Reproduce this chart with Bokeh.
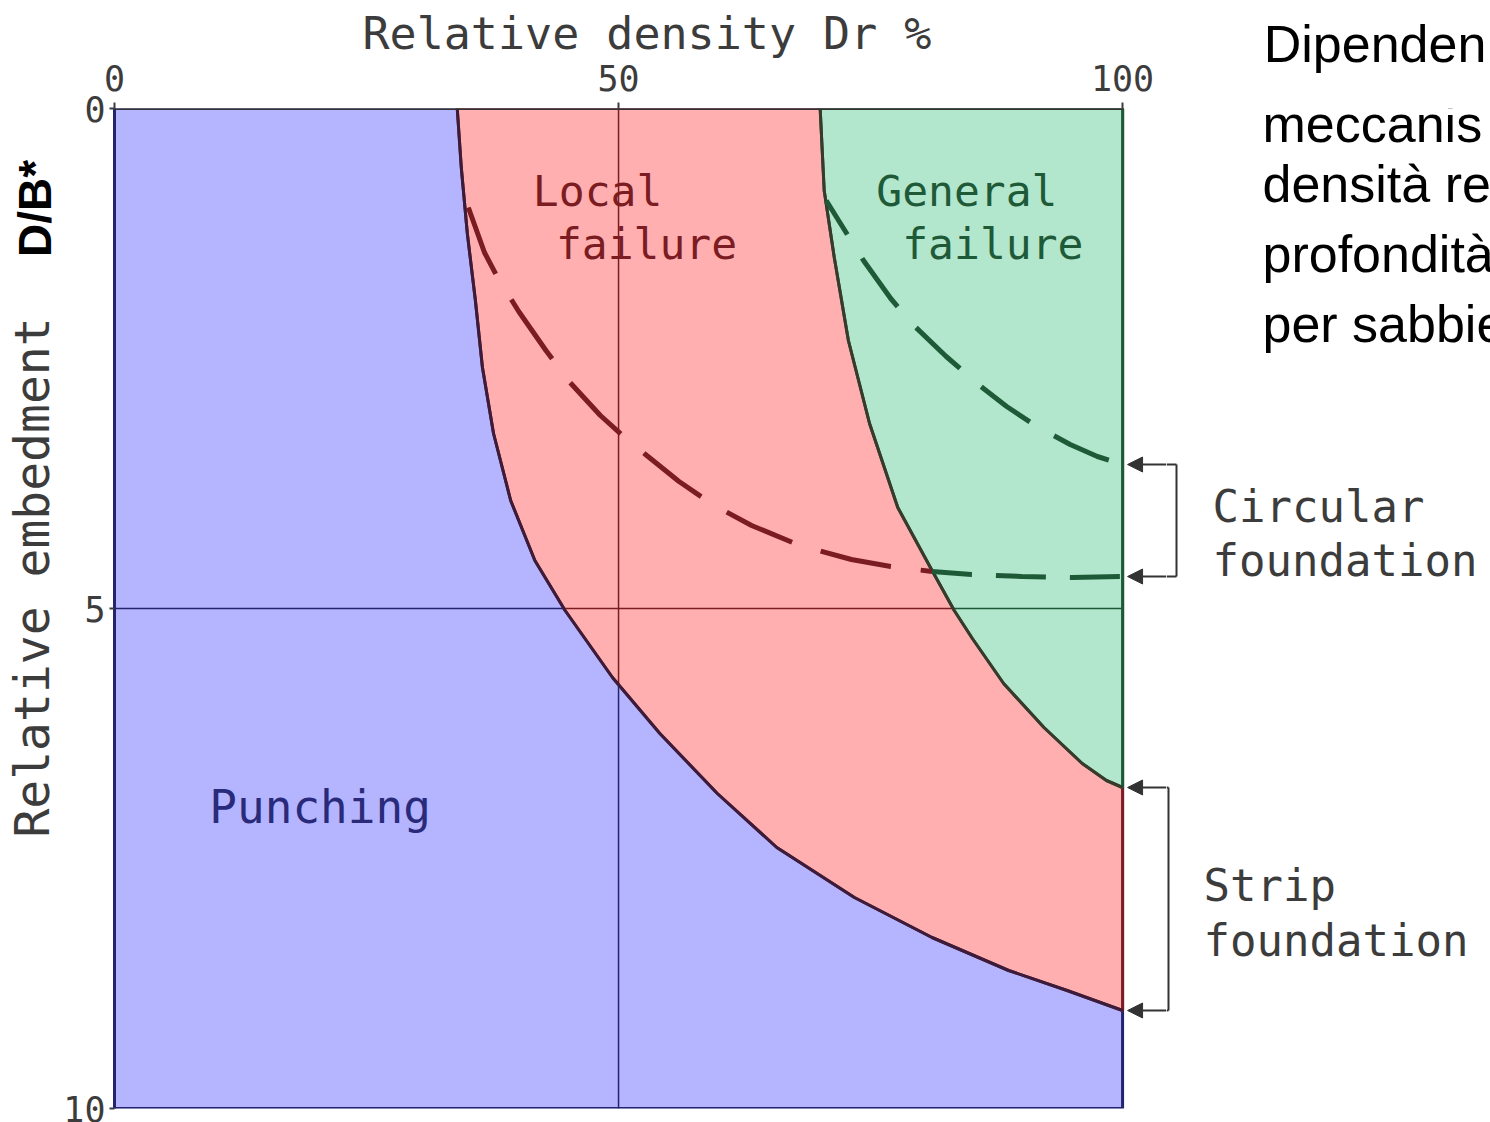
import numpy as np
from math import pi
from bokeh.plotting import figure
from bokeh.layouts import row
from bokeh.models import Range1d, FixedTicker, Label, Arrow, NormalHead
from bokeh.embed import file_html
from bokeh.resources import INLINE

# ---------------- data ----------------
dr_ticks = [0, 50, 100]
db_ticks = [0, 5, 10]
dr_lim = [0, 100]
db_lim = [0, 10]

# boundary punching / local shear (solid)
b1_dr = [34.0, 34.4, 35.0, 35.8, 36.5, 37.6, 39.3, 41.7, 44.7, 49.4, 54.1, 59.8, 65.7, 73.4, 81.1, 88.7, 94.5, 100.0]
b1_db = [0.00, 0.59, 1.25, 1.92, 2.59, 3.25, 3.92, 4.52, 5.02, 5.69, 6.25, 6.85, 7.39, 7.89, 8.29, 8.62, 8.82, 9.02]
# boundary local / general shear (solid)
b2_dr = [70.0, 70.4, 71.4, 72.8, 74.9, 77.7, 81.1, 83.3, 85.1, 88.2, 92.2, 96.0, 98.4, 100.0]
b2_db = [0.00, 0.82, 1.49, 2.32, 3.15, 3.99, 4.62, 5.02, 5.30, 5.75, 6.19, 6.55, 6.72, 6.79]
# circular foundation: local -> punching limit (dashed, red part)
c1_dr = [35.1, 36.7, 38.0, 40.1, 42.8, 45.1, 48.2, 50.5, 52.8, 56.0, 59.5, 63.2, 68.0, 73.1, 77.0, 81.1]
c1_db = [0.99, 1.44, 1.69, 2.03, 2.42, 2.73, 3.07, 3.28, 3.47, 3.73, 3.97, 4.17, 4.37, 4.51, 4.58, 4.63]
# same curve inside general-failure zone (dashed, green part)
c1g_dr = [81.1, 85.0, 90.0, 95.0, 100.0]
c1g_db = [4.63, 4.66, 4.68, 4.69, 4.68]
# circular foundation: general -> local limit (dashed)
c2_dr = [70.6, 74.3, 77.0, 79.3, 82.5, 85.7, 88.5, 91.5, 94.8, 97.5, 100.0]
c2_db = [0.92, 1.52, 1.90, 2.17, 2.48, 2.76, 2.98, 3.18, 3.36, 3.48, 3.56]

ref_dr = 50
ref_db = 5

# ---------------- colours / fonts ----------------
BLUE_F, BLUE_L = "#b4b4ff", "#23236e"
RED_F, RED_L = "#ffafaf", "#7a1c22"
GREEN_F, GREEN_L = "#b2e6cd", "#1e5a38"
TXT = "#3c3c3c"
INK = "#333333"
SCAN = "DejaVu Sans Mono"
SLIDE = "Liberation Sans"

# page-pixel -> data helpers (chart box: Dr 0..100 -> x 112..1122, D/B 0..10 -> y 108..1108)
PX0, PX1, PY0, PY1 = 112, 1122, 108, 1108
def X(px):
    return (px - PX0) / (PX1 - PX0) * 100.0
def Y(py):
    return (py - PY0) / (PY1 - PY0) * 10.0

PAGE_W, PAGE_H = 1490, 1122
LEFT_W = 60
MAIN_R = 1166
RIGHT_W = PAGE_W - MAIN_R

def blank(width, x0, x1, top_axis=False):
    f = figure(width=width, height=PAGE_H, x_range=Range1d(X(x0), X(x1)),
               y_range=Range1d(db_lim[1], db_lim[0]),
               x_axis_location="above" if top_axis else None, y_axis_location=None,
               output_backend="svg", toolbar_location=None,
               min_border_left=0, min_border_right=0,
               min_border_top=PY0, min_border_bottom=PAGE_H - PY1)
    f.outline_line_color = None
    f.grid.visible = False
    return f

def lab(fig, text, px, py, color=TXT, size="40px", font=SCAN, align="center",
        baseline="middle", angle=0.0, style="normal"):
    fig.add_layout(Label(x=X(px), y=Y(py), text=text, text_color=color, text_font_size=size,
                         text_font=font, text_align=align, text_baseline=baseline,
                         angle=angle, text_font_style=style))

# ---------------- main chart ----------------
p = figure(width=MAIN_R - LEFT_W, height=PAGE_H, x_range=Range1d(0, X(MAIN_R)),
           y_range=Range1d(db_lim[1], db_lim[0]),
           x_axis_location="above", output_backend="svg", toolbar_location=None,
           min_border_left=PX0 - LEFT_W, min_border_right=0,
           min_border_top=PY0, min_border_bottom=PAGE_H - PY1)
p.outline_line_color = None
p.grid.visible = False

p.title.text = "Relative density  Dr %"
p.title.align = "left"
p.title.offset = 248
p.title.standoff = 4
p.title.text_font = SCAN
p.title.text_font_style = "normal"
p.title.text_font_size = "45px"
p.title.text_color = TXT

for ax, ticks in ((p.xaxis, dr_ticks), (p.yaxis, db_ticks)):
    ax.ticker = FixedTicker(ticks=ticks)
    ax.minor_tick_line_color = None
    ax.major_tick_in = 0
    ax.major_tick_out = 5
    ax.major_tick_line_width = 2
    ax.major_tick_line_color = TXT
    ax.major_label_text_font = SCAN
    ax.major_label_text_font_size = "35px"
    ax.major_label_text_color = TXT
    ax.major_label_standoff = 4
p.xaxis.major_tick_out = 6
p.xaxis.major_label_standoff = 12
p.xaxis.axis_line_color = None
p.yaxis.axis_line_color = BLUE_L
p.yaxis.axis_line_width = 3

# regions
p.patch([dr_lim[0], dr_lim[1], dr_lim[1], dr_lim[0]], [db_lim[0], db_lim[0], db_lim[1], db_lim[1]],
        fill_color=BLUE_F, line_color=BLUE_L, line_width=3)
p.patch(b1_dr + [dr_lim[1]], b1_db + [db_lim[0]], fill_color=RED_F, line_color=RED_L, line_width=3)
p.patch(b2_dr + [dr_lim[1]], b2_db + [db_lim[0]], fill_color=GREEN_F, line_color=GREEN_L, line_width=3)

# reference lines Dr = 50 and D/B = 5, coloured by region
y50 = float(np.interp(ref_dr, b1_dr, b1_db))
x5a = float(np.interp(ref_db, b1_db, b1_dr))
x5b = float(np.interp(ref_db, b2_db, b2_dr))
p.segment([ref_dr], [db_lim[1]], [ref_dr], [y50], line_color=BLUE_L, line_width=1.5)
p.segment([ref_dr], [y50], [ref_dr], [db_lim[0]], line_color=RED_L, line_width=1.5)
p.segment([dr_lim[0]], [ref_db], [x5a], [ref_db], line_color=BLUE_L, line_width=1.5)
p.segment([x5a], [ref_db], [x5b], [ref_db], line_color=RED_L, line_width=1.5)
p.segment([x5b], [ref_db], [dr_lim[1]], [ref_db], line_color=GREEN_L, line_width=1.5)

# solid boundaries and top edge
p.line(b1_dr, b1_db, line_color="#3a1c3c", line_width=3)
p.line(b2_dr, b2_db, line_color="#3a3a2c", line_width=3)
p.line(dr_lim, [db_lim[0], db_lim[0]], line_color=INK, line_width=3)

# dashed circular-foundation curves
p.line(c1_dr, c1_db, line_color=RED_L, line_width=5, line_dash="72 30")
p.line(c1g_dr, c1g_db, line_color=GREEN_L, line_width=5, line_dash="50 24", line_dash_offset=10)
p.line(c2_dr, c2_db, line_color=GREEN_L, line_width=5, line_dash="60 28", line_dash_offset=20)

lab(p, "Local", 596, 190, RED_L, "43px")
lab(p, "failure", 645, 243, RED_L, "43px")
lab(p, "General", 966, 190, GREEN_L, "43px")
lab(p, "failure", 992, 243, GREEN_L, "43px")
lab(p, "Punching", 318, 806, "#2a2a7a", "46px")

# bracket arrow heads (chart side)
circ_top, circ_bot = c2_db[-1], c1g_db[-1]
strip_top, strip_bot = b2_db[-1], b1_db[-1]
for yv in (circ_top, circ_bot, strip_top, strip_bot):
    p.add_layout(Arrow(x_start=X(MAIN_R), y_start=yv, x_end=X(1127), y_end=yv,
                       end=NormalHead(size=15, fill_color=INK, line_color=INK),
                       line_color=INK, line_width=2))

# ---------------- left strip: y-axis title ----------------
left = blank(LEFT_W, 0, LEFT_W)
lab(left, "Relative embedment", 31, 577, TXT, "48px", angle=pi / 2)
lab(left, "D/B*", 34, 208, "black", "46px", font=SLIDE, angle=pi / 2, style="bold")

# ---------------- right strip: brackets + notes ----------------
right = blank(RIGHT_W, MAIN_R, PAGE_W, top_axis=True)
note_tick = 125
rax = right.xaxis[0]
rax.ticker = FixedTicker(ticks=[note_tick])
rax.major_label_overrides = {note_tick: "Dipenden"}
rax.major_label_text_font = SLIDE
rax.major_label_text_font_size = "52px"
rax.major_label_text_color = "black"
rax.major_label_standoff = 36
rax.major_tick_in = 0
rax.major_tick_out = 0
rax.major_tick_line_color = None
rax.minor_tick_line_color = None
rax.axis_line_color = None

for yv, xv in ((circ_top, 1176), (circ_bot, 1176), (strip_top, 1168), (strip_bot, 1168)):
    right.add_layout(Arrow(x_start=X(xv), y_start=yv, x_end=X(MAIN_R), y_end=yv,
                           end=None, line_color=INK, line_width=2))
right.add_layout(Arrow(x_start=X(1176), y_start=circ_top, x_end=X(1176), y_end=circ_bot,
                       end=None, line_color=INK, line_width=2))
right.add_layout(Arrow(x_start=X(1168), y_start=strip_top, x_end=X(1168), y_end=strip_bot,
                       end=None, line_color=INK, line_width=2))

lab(right, "Circular", 1212, 506, TXT, "44px", align="left")
lab(right, "foundation", 1212, 560, TXT, "44px", align="left")
lab(right, "Strip", 1203, 885, TXT, "44px", align="left")
lab(right, "foundation", 1203, 940, TXT, "44px", align="left")

slide_lines = ["meccanis", "densità re", "profondità", "per sabbie"]
slide_y = [123, 183, 253, 323]
for t, yy in zip(slide_lines, slide_y):
    lab(right, t, 1262, yy, "black", "52px", font=SLIDE, align="left", baseline="alphabetic")

layout = row(left, p, right)
open("out.html", "w").write(file_html(layout, INLINE))
